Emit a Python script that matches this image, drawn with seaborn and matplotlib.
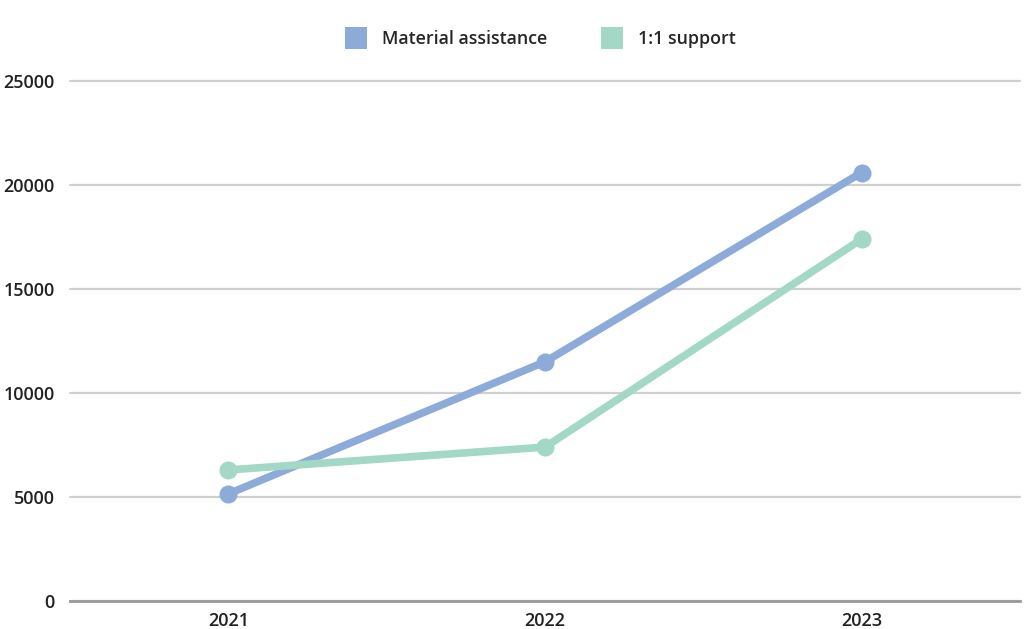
import pandas as pd
import seaborn as sns
import matplotlib.pyplot as plt
from matplotlib.lines import Line2D

years = ["2021", "2022", "2023"]
material_assistance = [5150, 11500, 20600]
one_to_one_support = [6300, 7400, 17400]
series_names = ["Material assistance", "1:1 support"]
colors = ["#8dabd8", "#a3d8c6"]

df = pd.DataFrame({
    "year": years * 2,
    "value": material_assistance + one_to_one_support,
    "series": [series_names[0]] * 3 + [series_names[1]] * 3,
})

sns.set_theme(style="white")
plt.rcParams['font.family'] = ['Open Sans', 'DejaVu Sans']

fig = plt.figure(figsize=(10.24, 6.29), dpi=100)
ax = fig.add_axes([70 / 1024, 28 / 629, 950 / 1024, 520 / 629])

sns.lineplot(data=df, x="year", y="value", hue="series", palette=colors,
             marker="o", markersize=13, markeredgewidth=0, linewidth=5.5,
             sort=False, legend=False, ax=ax)
for ln in ax.lines:
    ln.set_clip_on(False)
    ln.set_solid_capstyle("round")

ax.set_xlim(-0.5, 2.5)
ax.set_ylim(0, 25000)
ax.set_yticks(range(0, 25001, 5000))
ax.yaxis.grid(True, color="#cfcfcf", linewidth=1.6)
ax.set_axisbelow(True)
for g in ax.get_ygridlines():
    g.set_clip_on(False)

for side in ["top", "right", "left"]:
    ax.spines[side].set_visible(False)
ax.spines["bottom"].set_color("#9a9a9a")
ax.spines["bottom"].set_linewidth(2)

ax.set_xlabel("")
ax.set_ylabel("")
ax.tick_params(axis="both", length=0, labelsize=13, colors="#222222")
ax.tick_params(axis="y", pad=11)
ax.tick_params(axis="x", pad=8)
for lbl in ax.get_xticklabels() + ax.get_yticklabels():
    lbl.set_fontweight("semibold")

handles = [Line2D([], [], marker="s", linestyle="none", markersize=16,
                  markerfacecolor=c, markeredgewidth=0) for c in colors]
fig.legend(handles, series_names, loc="center", bbox_to_anchor=(537 / 1024, 1 - 39 / 629),
           ncol=2, frameon=False, handletextpad=0.5, columnspacing=2.6,
           prop={"size": 12.8, "weight": "semibold"})

fig.savefig("out.png", dpi=100)
